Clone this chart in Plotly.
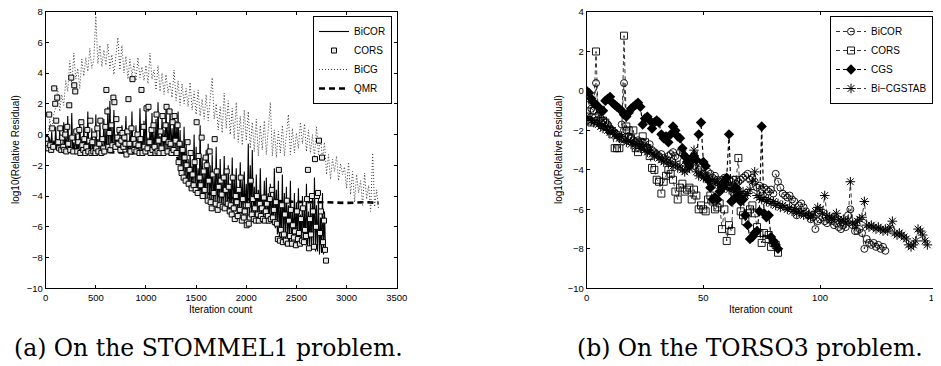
import numpy as np
import plotly.graph_objects as go

# ---------------- Left panel: STOMMEL1 ----------------
left_bicor_x = list(range(0, 2800, 10))
left_bicor_y = [
    0.0, -0.5, -0.2, -0.8, -0.3, -0.9, 0.2, -1.0, -0.4, -0.9,
    0.5, -1.0, -0.3, -1.1, 0.3, -1.0, -0.6, -1.1, 0.8, -1.1,
    -0.2, -1.2, 1.2, -1.1, -0.4, -1.2, 1.4, -1.2, -0.5, -1.2,
    0.2, -1.2, -0.6, -1.3, 1.0, -1.2, -0.3, -1.3, 0.6, -1.2,
    -0.2, -1.3, 1.5, -1.2, -0.5, -1.3, 0.4, -1.3, -0.4, -1.3,
    1.3, -1.2, -0.3, -1.3, 0.8, -1.3, -0.6, -1.2, 1.0, -1.3,
    0.3, -1.2, 1.8, -1.1, 2.2, -1.0, 0.5, -1.2, 1.6, -0.9,
    -0.2, -0.7, 0.3, -0.5, -0.2, -0.8, 0.6, -0.6, 0.0, -0.9,
    1.2, -1.3, -0.4, -1.2, 0.2, -1.3, 1.5, -1.3, -0.5, -1.2,
    0.6, -1.3, -0.3, -1.3, 1.7, -1.2, -0.2, -1.3, 0.9, -1.2,
    1.8, -1.3, -0.2, -1.2, 0.5, -1.3, 1.4, -1.3, 0.2, -1.2,
    1.0, -1.3, 2.1, -1.2, -0.1, -1.3, 1.2, -1.3, 0.3, -1.2,
    1.9, -1.2, 0.8, -1.3, 1.6, -1.1, 0.4, -1.3, 1.3, -1.2,
    0.9, -1.4, 1.5, -2.0, 0.3, -2.5, -0.4, -2.8, 0.5, -3.0,
    -0.5, -3.3, -1.6, -3.5, -1.0, -3.6, -2.0, -3.4, 0.0, -3.8,
    -0.8, -4.0, -2.2, -3.9, 0.6, -4.1, -1.5, -4.0, -2.5, -4.2,
    -1.0, -4.3, -0.6, -4.4, -2.0, -4.5, -1.3, -4.6, -2.8, -4.5,
    -0.8, -4.7, -2.2, -4.6, -1.6, -4.8, -3.0, -4.7, -1.4, -4.8,
    -2.5, -4.9, -2.0, -5.0, -3.2, -4.9, -1.5, -5.1, -2.8, -5.0,
    -2.2, -5.2, -3.5, -5.1, -1.8, -5.2, -3.0, -5.3, -2.4, -5.2,
    -3.2, -5.4, -0.6, -5.5, -2.0, -5.4, -1.0, -5.5, -3.4, -5.5,
    -2.6, -5.5, -3.6, -5.6, -2.2, -5.5, -4.0, -5.6, -3.0, -5.6,
    -2.8, -5.7, -3.8, -5.8, -3.2, -5.7, -4.2, -5.9, -2.2, -6.1,
    -3.6, -6.5, -3.0, -6.8, -4.4, -6.9, -2.6, -7.0, -3.8, -6.8,
    -3.4, -6.9, -4.6, -7.0, -3.0, -7.1, -5.0, -6.8, -3.8, -7.0,
    -4.4, -7.1, -3.5, -6.9, -5.2, -7.1, -4.0, -7.0, -4.8, -7.2,
    -3.2, -7.3, -5.0, -7.4, -4.5, -7.5, -3.8, -7.3, -2.8, -7.6,
    -4.6, -7.6, -4.2, -7.8, -5.4, -7.7, -3.8, -7.8, -5.0, -7.5,
]

left_cors_x = list(range(5, 2800, 10))
left_cors_y = [
    -0.3, -0.6, -0.9, 1.3, -0.7, -1.0, 0.4, -0.8, 3.0, 2.0,
    0.9, 2.4, -0.5, -0.9, 0.4, -1.0, -0.2, -0.8, -1.0, 0.0,
    -1.1, 0.5, -0.6, 1.9, -1.0, 3.7, -0.2, -1.1, 3.2, 2.8,
    0.2, -1.1, -0.5, 0.3, -1.2, 0.8, -0.7, -1.0, -0.3, -1.2,
    -0.8, 0.3, -1.1, -0.4, 0.9, -1.2, -0.5, -1.1, 0.0, -1.2,
    -0.9, 0.4, -1.1, -0.6, 0.9, -1.2, -0.3, -0.9, -1.1, 0.5,
    2.9, 1.5, -0.8, 0.1, -1.0, 0.6, -0.7, 2.4, 2.1, -0.8,
    1.0, -0.2, -0.6, 0.3, -1.0, -0.4, 0.1, -0.8, -0.2, -0.6,
    -1.3, 0.2, 2.3, -0.6, -1.1, 0.4, 3.6, -0.3, -1.0, -0.6,
    -1.1, 0.0, -0.7, -1.2, -0.3, 2.9, -1.2, 0.5, -0.8, -1.1,
    1.7, -0.9, 1.8, -0.5, -1.2, 0.3, -1.0, 0.6, -0.8, -1.2,
    1.3, -1.1, -0.4, -1.2, 0.2, -0.9, 1.2, -1.2, -0.3, 0.6,
    1.8, -1.1, -0.5, 1.5, -0.6, -1.2, 0.8, -1.0, 1.2, -0.4,
    -1.2, 0.6, -1.8, -0.6, -2.2, -2.5, -1.0, -2.8, -1.5, -3.0,
    -2.0, -0.5, -3.2, -2.3, -1.2, -3.5, -2.6, -3.3, -1.8, -3.6,
    0.8, -3.8, -1.4, -2.8, -3.3, -0.2, -4.0, -2.4, -3.6, -1.5,
    -2.0, -4.3, -3.0, -1.1, -4.4, -4.8, -2.6, -3.8, -0.3, -4.5,
    -2.4, -4.9, -3.4, -4.6, -3.0, -3.9, -4.7, -2.8, -4.8, -3.6,
    -2.4, -4.5, -3.4, -5.0, -4.6, -5.2, -2.8, -4.8, -5.5, -4.0,
    -4.4, -5.3, -3.6, -4.9, -2.8, -5.6, -4.2, -5.4, -5.0, -4.6,
    -5.9, -4.6, -5.8, -5.4, -3.0, -5.2, -4.2, -5.5, -4.8, -5.6,
    -4.0, -5.2, -5.6, -4.5, -5.3, -4.8, -5.5, -4.1, -5.6, -5.0,
    -4.5, -5.3, -5.6, -4.2, -5.5, -3.6, -5.4, -4.9, -5.7, -4.4,
    -5.8, -6.8, -2.3, -6.9, -6.2, -4.6, -7.0, -6.5, -5.2, -6.9,
    -4.3, -7.1, -5.6, -6.6, -4.9, -7.1, -5.9, -6.7, -6.3, -7.2,
    -5.0, -6.8, -6.4, -7.1, -5.5, -6.9, -4.8, -7.0, -6.2, -6.6,
    -4.2, -2.3, -7.4, -5.5, -6.5, -4.0, -5.0, -7.3, -1.6, -6.0,
    -4.0, -3.8, -0.4, -6.4, -5.0, -1.5, -7.0, -5.6, -7.5, -8.2,
]

left_bicg_x = list(range(0, 3340, 20))
left_bicg_y = [
    0.0, -0.4, 1.0, 0.2, 1.3, 1.8, 3.0, 1.5, 2.6, 1.9,
    3.5, 2.8, 4.8, 3.2, 5.3, 3.6, 4.3, 3.0, 4.9, 3.8,
    5.0, 4.1, 5.6, 4.3, 4.9, 7.7, 4.6, 5.8, 4.4, 5.5,
    4.5, 5.9, 4.3, 5.2, 3.9, 5.0, 6.3, 4.2, 5.8, 4.0,
    5.1, 3.6, 4.9, 3.8, 4.6, 3.5, 5.0, 3.7, 4.4, 3.5,
    4.5, 3.3, 5.3, 3.6, 4.2, 2.9, 4.5, 2.8, 4.0, 2.6,
    3.9, 2.7, 3.4, 2.4, 4.2, 2.2, 3.5, 1.9, 3.3, 2.0,
    3.0, 1.8, 3.4, 1.6, 2.8, 1.3, 2.9, 1.2, 2.3, 1.0,
    2.6, 0.9, 2.2, 3.7, 1.0, 2.0, 0.3, 1.8, 0.1, 2.7,
    0.4, 2.2, 0.0, 1.7, -0.3, 2.1, -0.5, 1.2, -0.7, 1.6,
    -0.4, 1.5, -0.9, 0.8, -1.1, 1.0, -1.4, 0.6, -1.0, 0.9,
    -1.3, 0.5, 2.1, -1.4, 0.3, -1.5, 0.2, -1.2, 0.6, -1.4,
    0.2, 1.3, -1.3, 0.4, -1.2, 0.1, -0.9, 0.8, -0.6, 0.7,
    -1.1, 0.3, -1.2, 0.0, -1.5, 0.5, -1.3, -0.2, -1.6, -0.5,
    -2.6, -1.3, -2.9, -1.6, -2.4, -1.4, -3.0, -1.9, -2.6, -2.1,
    -3.5, -1.8, -3.9, -2.4, -4.4, -2.6, -3.8, -3.0, -4.6, -2.5,
    -4.2, -3.3, -5.0, -1.2, -4.7, -3.6, -4.9,
]

left_qmr_x = [0, 100, 400, 800, 1300, 1400, 1600, 1800, 2000, 2200, 2400, 2600, 2800, 3000, 3200, 3320]
left_qmr_y = [0, -0.9, -1.1, -1.2, -1.3, -2.8, -3.8, -4.1, -4.2, -4.3, -4.35, -4.4, -4.4, -4.45, -4.4, -4.45]

# ---------------- Right panel: TORSO3 ----------------
right_bicor_x = list(range(0, 129))
right_bicor_y = [
    -0.2, -0.7, -0.9, -1.0, 0.4, -1.2, -1.4, -1.5, -1.6, -1.7,
    -1.9, -2.0, -2.1, -2.2, -2.3, -1.7, 0.4, -2.0, -2.3, -2.4,
    -2.5, -2.6, -2.5, -2.7, -2.6, -2.8, -2.9, -2.7, -3.0, -3.1,
    -3.2, -3.3, -3.2, -3.4, -3.5, -3.3, -3.2, -3.1, -3.3, -3.4,
    -3.1, -3.0, -3.3, -3.6, -3.7, -3.5, -3.8, -3.6, -4.0, -3.9,
    -4.2, -4.3, -4.1, -4.2, -4.4, -4.3, -4.5, -4.6, -4.5, -4.4,
    -4.6, -4.8, -4.6, -4.5, -4.7, -4.6, -4.5, -4.4, -4.3, -4.2,
    -4.5, -4.4, -4.6, -4.9, -4.8, -5.0, -4.9, -5.0, -5.1, -5.0,
    -5.2, -4.2, -4.6, -4.9, -5.2, -5.3, -5.4, -5.3, -5.5, -5.6,
    -6.3, -5.8, -5.7, -5.9, -6.1, -6.3, -6.5, -6.4, -7.0, -6.6,
    -6.5, -6.4, -6.6, -6.7, -6.5, -6.6, -6.8, -6.7, -6.9, -7.0,
    -6.8, -6.9, -6.3, -6.0, -6.8, -7.1, -7.1, -7.0, -7.2, -8.0,
    -7.5, -7.7, -7.8, -7.7, -7.9, -7.8, -8.0, -7.9, -8.1,
]

right_cors_x = list(range(0, 83))
right_cors_y = [
    -1.3, -1.5, -1.6, -1.0, 2.0, -1.5, -1.6, -1.5, -1.6, -1.8,
    -2.0, -2.2, -2.9, -2.9, -2.9, -2.4, 2.8, -1.8, -2.0, -2.4,
    -2.0, -2.9, -3.1, -2.6, -2.3, -2.6, -2.9, -3.3, -3.9, -4.0,
    -4.5, -4.6, -5.2, -4.6, -4.3, -4.0, -4.2, -4.5, -5.1, -5.5,
    -4.9, -4.7, -5.1, -5.0, -4.9, -5.5, -5.0, -5.3, -6.0, -5.8,
    -6.0, -6.1, -5.5, -5.3, -5.6, -6.0, -5.9, -5.7, -7.0, -6.0,
    -7.6, -6.8, -7.1, -5.1, -4.5, -3.4, -6.1, -6.3, -6.6, -6.2,
    -6.0, -5.8, -6.2, -6.9, -7.2, -7.7, -7.2, -7.5, -7.3, -7.9,
    -7.7, -7.8, -8.2,
]

right_cgs_x = list(range(0, 83))
right_cgs_y = [
    0.0, -0.1, -0.4, -0.6, -0.7, -0.8, -1.0, -1.0, -0.5, -0.4,
    -0.3, -0.6, -0.7, -0.8, -0.9, -1.0, -1.2, -1.3, -1.1, -0.9,
    -0.8, -0.7, -0.6, -0.8, -1.7, -1.4, -1.3, -1.5, -1.9, -1.6,
    -1.5, -1.6, -2.2, -2.4, -2.3, -2.6, -2.2, -1.8, -2.0, -2.3,
    -2.4, -2.9, -3.3, -3.6, -3.8, -3.4, -3.3, -3.5, -2.2, -1.6,
    -3.6, -3.8, -4.5, -4.9, -5.5, -5.4, -5.5, -5.1, -4.9, -4.6,
    -4.4, -2.2, -5.6, -5.5, -4.9, -5.3, -5.6, -5.5, -6.3, -6.8,
    -7.5, -7.4, -7.2, -7.1, -6.1, -1.8, -6.2, -6.4, -6.3, -7.4,
    -7.6, -7.8, -8.0,
]

right_bicgstab_x = list(range(0, 147))
right_bicgstab_y = [
    -1.3, -1.4, -1.5, -1.6, -1.5, -1.7, -1.8, -1.9, -1.8, -2.0,
    -2.1, -2.0, -2.2, -2.3, -2.4, -2.3, -2.5, -2.6, -2.5, -2.7,
    -2.6, -2.8, -2.7, -2.9, -2.8, -3.0, -3.1, -3.0, -3.2, -3.3,
    -3.2, -3.4, -3.5, -3.6, -3.5, -3.7, -3.6, -3.8, -3.7, -3.9,
    -3.8, -4.0, -4.1, -4.0, -3.9, -3.4, -3.0, -4.1, -4.3, -4.2,
    -4.4, -4.3, -4.5, -4.6, -4.5, -4.7, -4.6, -4.8, -4.7, -4.9,
    -4.8, -5.0, -4.9, -5.1, -5.0, -5.1, -5.2, -5.1, -5.3, -5.2,
    -5.0, -4.6, -4.1, -5.3, -5.4, -5.5, -5.4, -5.6, -5.5, -5.7,
    -5.6, -5.8, -5.7, -5.9, -5.8, -5.9, -6.0, -5.9, -6.1, -6.0,
    -6.2, -6.1, -6.2, -6.3, -6.2, -6.3, -6.4, -6.3, -6.1, -5.9,
    -6.0, -6.2, -5.3, -6.3, -6.4, -6.5, -6.4, -6.2, -6.5, -6.6,
    -6.5, -6.7, -6.6, -4.6, -6.7, -6.8, -6.6, -6.5, -6.4, -5.6,
    -6.8, -6.9, -6.8, -6.9, -7.0, -6.9, -7.0, -7.1, -7.0, -7.1,
    -6.9, -6.6, -7.2, -7.3, -7.2, -7.3, -7.4, -7.5, -7.8, -7.9,
    -7.8, -7.6, -7.0, -7.1, -7.3, -7.6, -7.8,
]

left_xticks = [0, 500, 1000, 1500, 2000, 2500, 3000, 3500]
left_yticks = [-10, -8, -6, -4, -2, 0, 2, 4, 6, 8]
right_xticks = [0, 50, 100, 150]
right_yticks = [-10, -8, -6, -4, -2, 0, 2, 4]

# page is 941x366; the page body has an 8px margin, so the figure is 933x358
OFF = 8
W, H = 941 - OFF, 366 - OFF
FONT = "Liberation Sans"

fig = go.Figure()

# left traces
fig.add_trace(go.Scatter(x=left_qmr_x, y=left_qmr_y, mode="lines", name="QMR",
                         line=dict(color="black", width=2.6, dash="6px,4px"),
                         xaxis="x", yaxis="y", legend="legend", legendrank=4))
fig.add_trace(go.Scatter(x=left_bicg_x, y=left_bicg_y, mode="lines", name="BiCG",
                         line=dict(color="#3a3a3a", width=1, dash="1px,2px"),
                         xaxis="x", yaxis="y", legend="legend", legendrank=3))
fig.add_trace(go.Scatter(x=left_bicor_x, y=left_bicor_y, mode="lines", name="BiCOR",
                         line=dict(color="black", width=1.1),
                         xaxis="x", yaxis="y", legend="legend", legendrank=1))
fig.add_trace(go.Scatter(x=left_cors_x, y=left_cors_y, mode="markers", name="CORS",
                         marker=dict(symbol="square", size=5, color="#e8e8e8",
                                     line=dict(color="black", width=1)),
                         xaxis="x", yaxis="y", legend="legend", legendrank=2))

# right traces
dash_r = "4px,3px"
fig.add_trace(go.Scatter(x=right_bicor_x, y=right_bicor_y, mode="lines+markers", name="BiCOR",
                         line=dict(color="black", width=0.8, dash=dash_r),
                         marker=dict(symbol="circle-open", size=7, color="black", line=dict(width=0.9)),
                         xaxis="x2", yaxis="y2", legend="legend2"))
fig.add_trace(go.Scatter(x=right_cors_x, y=right_cors_y, mode="lines+markers", name="CORS",
                         line=dict(color="black", width=0.8, dash=dash_r),
                         marker=dict(symbol="square-open", size=7, color="black", line=dict(width=0.9)),
                         xaxis="x2", yaxis="y2", legend="legend2"))
fig.add_trace(go.Scatter(x=right_cgs_x, y=right_cgs_y, mode="lines+markers", name="CGS",
                         line=dict(color="black", width=1.2, dash=dash_r),
                         marker=dict(symbol="diamond", size=8, color="black"),
                         xaxis="x2", yaxis="y2", legend="legend2"))
fig.add_trace(go.Scatter(x=right_bicgstab_x, y=right_bicgstab_y, mode="lines+markers", name="Bi\u2212CGSTAB",
                         line=dict(color="black", width=0.8, dash=dash_r),
                         marker=dict(symbol="asterisk-open", size=8, color="black", line=dict(width=1, color="black")),
                         xaxis="x2", yaxis="y2", legend="legend2"))

def px_x(p):
    return (p - OFF) / W

def px_y(p):
    return 1 - (p - OFF) / H

axis_common = dict(showline=True, linecolor="black", linewidth=1, mirror="ticks",
                   ticks="inside", ticklen=3, tickcolor="black", tickwidth=1,
                   showgrid=False, zeroline=False, automargin=False,
                   ticklabeloverflow="allow",
                   tickfont=dict(family=FONT, size=9.5, color="black"))

legend_common = dict(xanchor="right", yanchor="top",
                     bgcolor="white", bordercolor="black", borderwidth=1,
                     font=dict(family=FONT, size=10, color="black"),
                     tracegroupgap=0, itemwidth=30)

fig.update_layout(
    width=W, height=H,
    margin=dict(l=0, r=0, t=0, b=0, autoexpand=False),
    paper_bgcolor="white", plot_bgcolor="white",
    xaxis=dict(domain=[px_x(45.7), px_x(396.7)], range=[0, 3500], tickvals=left_xticks,
               anchor="y", **axis_common),
    yaxis=dict(domain=[px_y(288.3), px_y(11.5)], range=[-10, 8], tickvals=left_yticks,
               anchor="x", **axis_common),
    xaxis2=dict(domain=[px_x(586.7), min(1.0, px_x(936.7))], range=[0, 150], tickvals=right_xticks,
                anchor="y2", **axis_common),
    yaxis2=dict(domain=[px_y(288.3), px_y(12)], range=[-10, 4], tickvals=right_yticks,
                anchor="x2", **axis_common),
    legend=dict(x=px_x(392), y=px_y(16), **legend_common),
    legend2=dict(x=px_x(933), y=px_y(16), **legend_common),
    showlegend=True,
)

ann_font = dict(family=FONT, size=10, color="black")
cap_font = dict(family="DejaVu Serif", size=23.5, color="black")

def label(x, y, text, font, angle=0):
    fig.add_annotation(x=px_x(x), y=px_y(y), xref="paper", yref="paper", text=text,
                       showarrow=False, font=font, textangle=angle,
                       xanchor="center", yanchor="middle")

label(221, 309, "Iteration count", ann_font)
label(761, 309, "Iteration count", ann_font)
label(15, 150, "log10(Relative Residual)", ann_font, -90)
label(558, 150, "log10(Relative Residual)", ann_font, -90)
label(208, 348, "(a) On the STOMMEL1 problem.", cap_font)
label(750, 348, "(b) On the TORSO3 problem.", cap_font)

fig.write_html("out.html")
